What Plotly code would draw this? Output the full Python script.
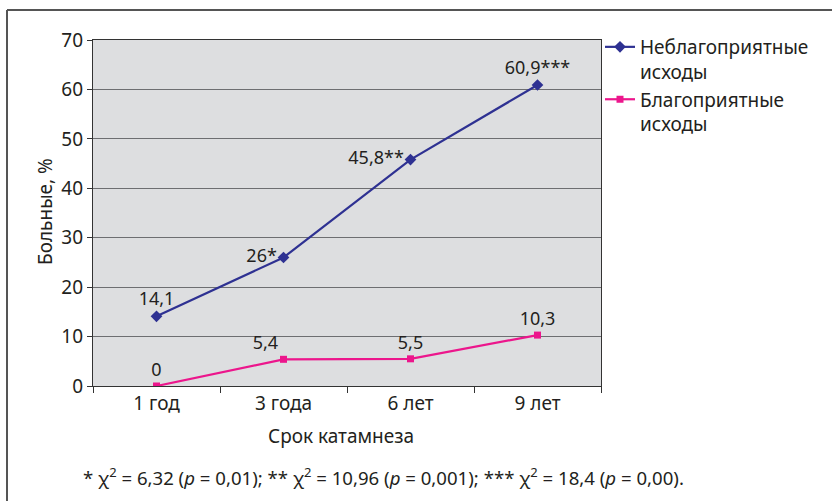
import plotly.graph_objects as go

periods = ["1 год", "3 года", "6 лет", "9 лет"]
bad_outcomes = [14.1, 26.0, 45.8, 60.9]
bad_labels = ["14,1", "26*", "45,8**", "60,9***"]
good_outcomes = [0.0, 5.4, 5.5, 10.3]
good_labels = ["0", "5,4", "5,5", "10,3"]

font_name = "Noto Sans"
txt = "#231f20"

# plot area in pixels: x 93..601, y 40..386
L, R, T, B = 93, 601, 40, 386


def px_x(p):
    return (p - L) / (R - L)


def px_y(p):
    return (B - p) / (B - T)


fig = go.Figure()

fig.add_trace(go.Scatter(
    x=periods, y=bad_outcomes, mode="lines+markers+text",
    name="Неблагоприятные<br>исходы",
    line=dict(color="#2e3192", width=2.2),
    marker=dict(symbol="diamond", size=9, color="#2e3192"),
    text=bad_labels,
    textposition=["top center", "middle left", "middle left", "top center"],
    textfont=dict(size=18, color=txt),
))

fig.add_trace(go.Scatter(
    x=periods, y=good_outcomes, mode="lines+markers+text",
    name="Благоприятные<br>исходы",
    line=dict(color="#ec168c", width=2.2),
    marker=dict(symbol="square", size=7, color="#ec168c"),
    text=good_labels,
    textposition=["top center", "top left", "top center", "top center"],
    textfont=dict(size=18, color=txt),
))

fig.update_layout(
    width=832,
    height=501,
    margin=dict(l=L, r=832 - R, t=T, b=501 - B, autoexpand=False),
    paper_bgcolor="white",
    plot_bgcolor="#dddee0",
    font=dict(family=font_name, size=19, color=txt),
    legend=dict(x=px_x(600), y=px_y(28), xanchor="left", yanchor="top",
                valign="top", font=dict(size=19, color=txt),
                tracegroupgap=9, itemwidth=30, bgcolor="rgba(0,0,0,0)"),
    xaxis=dict(
        range=[-0.5, 3.5], showline=True, linecolor="#333", linewidth=1.2,
        mirror=True, ticks="outside", ticklen=6, tickcolor="#333",
        tickson="boundaries", showgrid=False, automargin=False,
        tickfont=dict(size=19),
    ),
    yaxis=dict(
        range=[0, 70], dtick=10, showline=True, linecolor="#333",
        linewidth=1.2, mirror=True, ticks="outside", ticklen=5,
        tickcolor="#333", gridcolor="#6d6e71", gridwidth=1, zeroline=False,
        automargin=False, tickfont=dict(size=19),
    ),
)

# axis titles
fig.add_annotation(text="Срок катамнеза", xref="paper", yref="paper",
                   x=px_x(341), y=px_y(436), showarrow=False,
                   xanchor="center", yanchor="middle", font=dict(size=19))
fig.add_annotation(text="Больные, %", xref="paper", yref="paper",
                   x=px_x(45), y=px_y(212), showarrow=False, textangle=-90,
                   xanchor="center", yanchor="middle", font=dict(size=19))

# outer frame: top and left edges only
fig.add_shape(type="line", xref="paper", yref="paper",
              x0=px_x(7), x1=px_x(832), y0=px_y(10), y1=px_y(10),
              line=dict(color="#555", width=2))
fig.add_shape(type="line", xref="paper", yref="paper",
              x0=px_x(7), x1=px_x(7), y0=px_y(10), y1=px_y(501),
              line=dict(color="#555", width=2))

fig.add_annotation(
    text="* χ<sup>2</sup> = 6,32 (<i>p</i> = 0,01); ** χ<sup>2</sup> = 10,96 "
         "(<i>p</i> = 0,001); *** χ<sup>2</sup> = 18,4 (<i>p</i> = 0,00).",
    xref="paper", yref="paper", x=px_x(383), y=px_y(476),
    xanchor="center", yanchor="middle", showarrow=False,
    font=dict(size=18.6, color=txt),
)

# drop the default page margin so the figure sits at the window origin
fig.write_html("out.html", config={"displayModeBar": False},
               post_script="document.body.style.margin='0';")
